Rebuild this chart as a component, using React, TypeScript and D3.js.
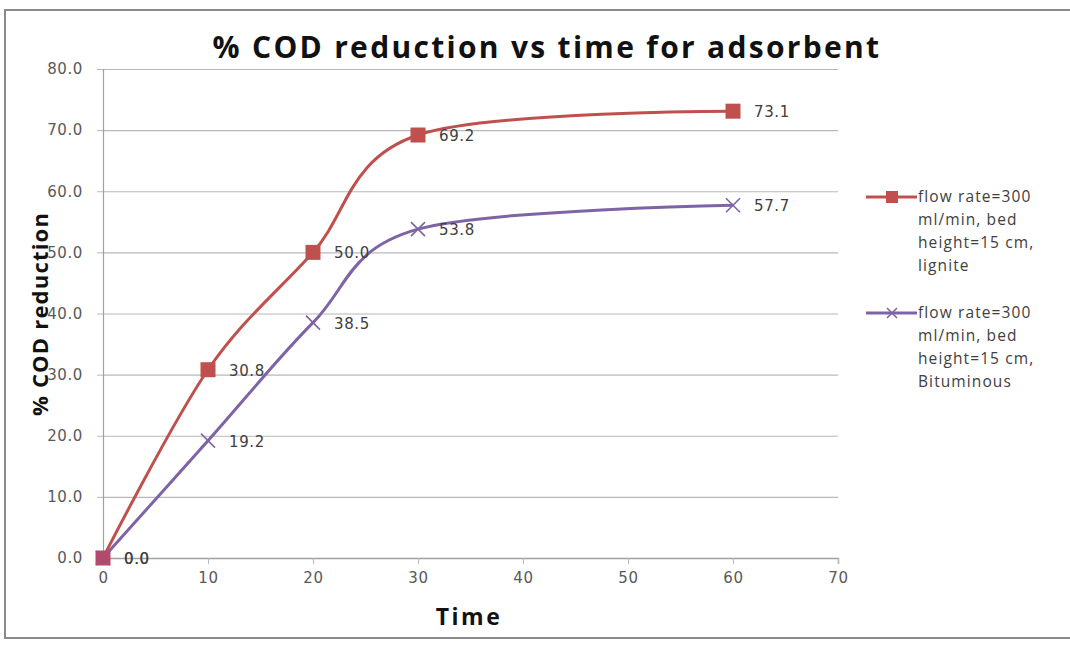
import React, { useEffect, useRef } from 'react';
import * as d3 from 'd3';

const times = [0, 10, 20, 30, 60];
const lignite = [0.0, 30.8, 50.0, 69.2, 73.1];
const bituminous = [0.0, 19.2, 38.5, 53.8, 57.7];
const xTicks = [0, 10, 20, 30, 40, 50, 60, 70];
const yTicks = [0, 10, 20, 30, 40, 50, 60, 70, 80];
const ligniteLegend = ['flow rate=300', 'ml/min, bed', 'height=15 cm,', 'lignite'];
const bitumLegend = ['flow rate=300', 'ml/min, bed', 'height=15 cm,', 'Bituminous'];

const RED = '#C0504D';
const PURPLE = '#7E64A6';

function App() {
  const ref = useRef<SVGSVGElement>(null);

  useEffect(() => {
    const svg = d3.select(ref.current);
    svg.selectAll('*').remove();

    const width = 1070;
    const height = 645;
    const margin = { top: 69, right: 232, bottom: 87, left: 103 };

    const x = d3.scaleLinear().domain([0, 70]).range([margin.left, width - margin.right]);
    const y = d3.scaleLinear().domain([0, 80]).range([height - margin.bottom, margin.top]);

    svg.attr('width', width).attr('height', height);

    svg.append('rect').attr('width', width).attr('height', height).attr('fill', '#fff');
    // chart frame
    svg.append('rect')
      .attr('x', 5).attr('y', 10).attr('width', width + 10).attr('height', 628)
      .attr('fill', '#fff').attr('stroke', '#8a8a8a').attr('stroke-width', 2);

    // grid lines
    svg.append('g')
      .attr('transform', `translate(${margin.left},0)`)
      .call(d3.axisLeft(y).tickValues(yTicks).tickSize(-(width - margin.left - margin.right)).tickFormat(() => ''))
      .call((g) => g.select('.domain').remove())
      .selectAll('.tick line')
      .attr('stroke', '#b8b8b8')
      .attr('stroke-width', 1.2);

    // y tick labels + small outer ticks
    svg.append('g')
      .attr('transform', `translate(${margin.left},0)`)
      .call(d3.axisLeft(y).tickValues(yTicks).tickSize(6).tickPadding(14).tickFormat(d3.format('.1f')))
      .call((g) => g.select('.domain').attr('stroke', '#a0a0a0').attr('stroke-width', 1.2))
      .call((g) => g.selectAll('.tick line').attr('stroke', '#b8b8b8'))
      .selectAll('text')
      .style('font-family', 'DejaVu Sans')
      .style('font-size', '15px')
      .style('letter-spacing', '0.6px')
      .style('fill', '#595959');

    // x axis
    svg.append('g')
      .attr('transform', `translate(0,${y(0)})`)
      .call(d3.axisBottom(x).tickValues(xTicks).tickSize(6).tickPadding(8))
      .call((g) => g.select('.domain').attr('stroke', '#a0a0a0').attr('stroke-width', 1.5))
      .call((g) => g.selectAll('.tick line').attr('stroke', '#b8b8b8'))
      .selectAll('text')
      .style('font-family', 'DejaVu Sans')
      .style('font-size', '15px')
      .style('letter-spacing', '0.6px')
      .style('fill', '#595959');

    const line = d3.line<number>()
      .x((_, i) => x(times[i]))
      .y((d) => y(d))
      .curve(d3.curveCardinal.tension(0));

    svg.append('path').datum(bituminous)
      .attr('d', line).attr('fill', 'none').attr('stroke', PURPLE).attr('stroke-width', 3);
    svg.append('path').datum(lignite)
      .attr('d', line).attr('fill', 'none').attr('stroke', RED).attr('stroke-width', 3);

    const cross = (g: any, cx: number, cy: number, s: number) => {
      g.append('path')
        .attr('d', `M${cx - s},${cy - s}L${cx + s},${cy + s}M${cx - s},${cy + s}L${cx + s},${cy - s}`)
        .attr('stroke', PURPLE).attr('stroke-width', 1.6).attr('fill', 'none');
    };

    const mk = svg.append('g');
    bituminous.forEach((v, i) => cross(mk, x(times[i]), y(v), 7));
    lignite.forEach((v, i) => {
      mk.append('rect')
        .attr('x', x(times[i]) - 7.5).attr('y', y(v) - 7.5)
        .attr('width', 15).attr('height', 15)
        .attr('fill', i === 0 ? '#B24A6E' : RED);
    });

    // data labels
    const lab = svg.append('g')
      .style('font-family', 'DejaVu Sans')
      .style('font-size', '15px')
      .style('letter-spacing', '0.6px')
      .style('fill', '#404040');
    const addLabels = (vals: number[]) => {
      vals.forEach((v, i) => {
        lab.append('text')
          .attr('x', x(times[i]) + 21).attr('y', y(v) + 6)
          .text(d3.format('.1f')(v));
      });
    };
    addLabels(lignite);
    addLabels(bituminous);

    // title
    svg.append('text')
      .attr('x', 547).attr('y', 58)
      .attr('text-anchor', 'middle')
      .style('font-family', 'Open Sans').style('font-weight', 'bold').style('font-size', '30px')
      .style('letter-spacing', '2.3px')
      .style('fill', '#111')
      .text('% COD reduction vs time for adsorbent');

    svg.append('text')
      .attr('x', 469).attr('y', 625)
      .attr('text-anchor', 'middle')
      .style('font-family', 'Open Sans').style('font-weight', 'bold').style('font-size', '23px')
      .style('letter-spacing', '2.5px')
      .style('fill', '#111')
      .text('Time');

    svg.append('text')
      .attr('transform', `translate(48,314) rotate(-90)`)
      .attr('text-anchor', 'middle')
      .style('font-family', 'Open Sans').style('font-weight', 'bold').style('font-size', '22px')
      .style('letter-spacing', '1.2px')
      .style('fill', '#111')
      .text('% COD reduction');

    // legend
    const legend = svg.append('g')
      .style('font-family', 'Open Sans')
      .style('font-size', '15.5px')
      .style('letter-spacing', '1.1px')
      .style('fill', '#404040');
    const entry = (top: number, lines: string[], color: string, isSquare: boolean) => {
      legend.append('line')
        .attr('x1', 866).attr('x2', 917).attr('y1', top).attr('y2', top)
        .attr('stroke', color).attr('stroke-width', 3);
      if (isSquare) {
        legend.append('rect').attr('x', 886).attr('y', top - 6).attr('width', 12).attr('height', 12).attr('fill', color);
      } else {
        cross(legend, 892, top, 5);
      }
      lines.forEach((t, i) => {
        legend.append('text').attr('x', 918).attr('y', top + 5 + i * 23).text(t);
      });
    };
    entry(197, ligniteLegend, RED, true);
    entry(313, bitumLegend, PURPLE, false);
  }, []);

  return <svg ref={ref} style={{ position: 'absolute', left: 0, top: 0 }}></svg>;
}

export default App;
